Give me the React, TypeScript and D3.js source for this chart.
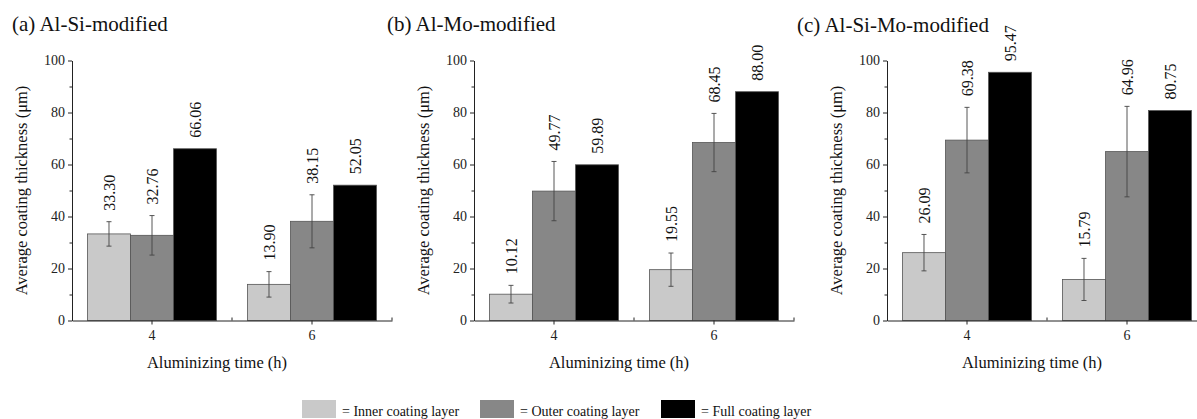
import * as React from "react";
import * as d3 from "d3";

// categories
const times = ["4", "6"];
const layers = ["Inner coating layer", "Outer coating layer", "Full coating layer"];
const layerColors = ["#c9c9c9", "#878787", "#000000"];
const yTicks = [0, 20, 40, 60, 80, 100];
const yMinorTicks = [10, 30, 50, 70, 90];
const titles = ["(a) Al-Si-modified", "(b) Al-Mo-modified", "(c) Al-Si-Mo-modified"];

// (a) Al-Si
const siInner = [33.3, 13.9];
const siOuter = [32.76, 38.15];
const siFull = [66.06, 52.05];
const siInnerErr = [4.7, 4.9];
const siOuterErr = [7.6, 10.2];

// (b) Al-Mo
const moInner = [10.12, 19.55];
const moOuter = [49.77, 68.45];
const moFull = [59.89, 88.0];
const moInnerErr = [3.4, 6.4];
const moOuterErr = [11.4, 11.2];

// (c) Al-Si-Mo
const simoInner = [26.09, 15.79];
const simoOuter = [69.38, 64.96];
const simoFull = [95.47, 80.75];
const simoInnerErr = [7.0, 8.1];
const simoOuterErr = [12.6, 17.4];

const panels = [
  { values: [siInner, siOuter, siFull], errs: [siInnerErr, siOuterErr, null] },
  { values: [moInner, moOuter, moFull], errs: [moInnerErr, moOuterErr, null] },
  { values: [simoInner, simoOuter, simoFull], errs: [simoInnerErr, simoOuterErr, null] },
];

const W = 1197;
const H = 419;
const font = "'Liberation Serif', 'Times New Roman', serif";
const panelX = [72, 474, 887];
const titleX = [12, 387, 797];
const axisW = 320;
const legendX = [302, 480, 661];

function draw(el: SVGSVGElement) {
  const svg = d3.select(el);
  svg.selectAll("*").remove();

  const y = d3.scaleLinear().domain([0, 100]).range([320.5, 60.5]);
  const x = d3.scaleBand().domain(times).range([0, axisW]);
  const xl = d3
    .scaleBand()
    .domain(layers)
    .range([0, x.bandwidth()])
    .paddingInner(0)
    .paddingOuter(0.36);

  panels.forEach((p, i) => {
    const g = svg.append("g").attr("transform", `translate(${panelX[i]},0)`);

    const rows: any[] = [];
    times.forEach((t, ti) => {
      layers.forEach((l, li) => {
        rows.push({
          time: t,
          layer: l,
          color: layerColors[li],
          value: p.values[li][ti],
          err: p.errs[li] ? p.errs[li]![ti] : null,
        });
      });
    });

    const cx = (d: any) => x(d.time)! + xl(d.layer)! + xl.bandwidth() / 2;

    g.selectAll("rect.bar")
      .data(rows)
      .enter()
      .append("rect")
      .attr("class", "bar")
      .attr("x", (d) => x(d.time)! + xl(d.layer)!)
      .attr("y", (d) => y(d.value))
      .attr("width", xl.bandwidth())
      .attr("height", (d) => y(0) - y(d.value))
      .style("fill", (d) => d.color)
      .style("stroke", "#555")
      .style("stroke-width", 0.8);

    const eb = g
      .selectAll("g.err")
      .data(rows.filter((d) => d.err != null))
      .enter()
      .append("g")
      .attr("class", "err")
      .style("stroke", "#444")
      .style("stroke-width", 0.9);
    eb.append("line")
      .attr("x1", cx)
      .attr("x2", cx)
      .attr("y1", (d) => y(d.value + d.err))
      .attr("y2", (d) => y(d.value - d.err));
    eb.append("line")
      .attr("x1", (d) => cx(d) - 2.5)
      .attr("x2", (d) => cx(d) + 2.5)
      .attr("y1", (d) => y(d.value + d.err))
      .attr("y2", (d) => y(d.value + d.err));
    eb.append("line")
      .attr("x1", (d) => cx(d) - 2.5)
      .attr("x2", (d) => cx(d) + 2.5)
      .attr("y1", (d) => y(d.value - d.err))
      .attr("y2", (d) => y(d.value - d.err));

    g.selectAll("text.val")
      .data(rows)
      .enter()
      .append("text")
      .attr("class", "val")
      .attr(
        "transform",
        (d) => `translate(${cx(d)},${y(d.value + (d.err || 0)) - 11}) rotate(-90)`
      )
      .attr("dy", "0.35em")
      .attr("text-anchor", "start")
      .style("font-family", font)
      .style("font-size", "16px")
      .style("fill", "#111")
      .text((d) => d.value.toFixed(2));

    // x axis
    const gx = g
      .append("g")
      .attr("transform", `translate(0,${y(0)})`)
      .call(d3.axisBottom(x).tickSize(4).tickSizeOuter(0).tickPadding(6));
    gx.selectAll(".tick line")
      .attr("transform", null);
    g.append("g")
      .selectAll("line")
      .data([x.bandwidth(), axisW])
      .enter()
      .append("line")
      .attr("x1", (d) => d)
      .attr("x2", (d) => d)
      .attr("y1", y(0))
      .attr("y2", y(0) - 3)
      .style("stroke", "#222");

    // y axis
    const gy = g
      .append("g")
      .call(
        d3.axisLeft(y).tickValues(yTicks).tickSize(4).tickSizeOuter(0).tickPadding(3)
      );
    g.append("g")
      .call(
        d3.axisLeft(y).tickValues(yMinorTicks).tickSize(2.5).tickFormat(() => "")
      )
      .select(".domain")
      .remove();

    [gx, gy].forEach((a) => {
      a.selectAll("text")
        .style("font-family", font)
        .style("font-size", "14px")
        .style("fill", "#222");
    });
    g.selectAll(".domain, .tick line").style("stroke", "#222");

    g.append("text")
      .attr("transform", `translate(-51,${(y(0) + y(100)) / 2}) rotate(-90)`)
      .attr("text-anchor", "middle")
      .attr("dy", "0.35em")
      .style("font-family", font)
      .style("font-size", "16.5px")
      .style("fill", "#111")
      .text("Average coating thickness (μm)");

    g.append("text")
      .attr("x", 145)
      .attr("y", 368)
      .attr("text-anchor", "middle")
      .style("font-family", font)
      .style("font-size", "16.5px")
      .style("fill", "#111")
      .text("Aluminizing time (h)");

    svg
      .append("text")
      .attr("x", titleX[i])
      .attr("y", i === 2 ? 32 : 31)
      .style("font-family", font)
      .style("font-size", "21px")
      .style("fill", "#111")
      .text(titles[i]);
  });

  const lg = svg
    .selectAll("g.legend")
    .data(layers)
    .enter()
    .append("g")
    .attr("class", "legend")
    .attr("transform", (_d, i) => `translate(${legendX[i]},400)`);
  lg.append("rect")
    .attr("width", 34)
    .attr("height", 18)
    .style("fill", (_d, i) => layerColors[i]);
  lg.append("text")
    .attr("x", 40)
    .attr("y", 15.5)
    .style("font-family", font)
    .style("font-size", "14px")
    .style("fill", "#111")
    .text((d) => "= " + d);
}

export default function App() {
  const ref = React.useRef<SVGSVGElement>(null);
  React.useEffect(() => {
    if (ref.current) draw(ref.current);
  }, []);
  return (
    <svg
      ref={ref}
      width={W}
      height={H}
      style={{ position: "absolute", left: 0, top: 0, background: "#fff" }}
    />
  );
}
